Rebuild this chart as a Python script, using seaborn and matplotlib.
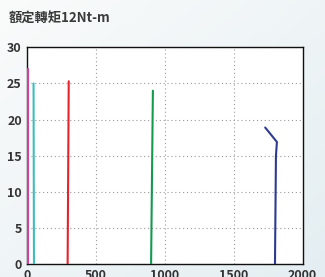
import numpy as np
import pandas as pd
import matplotlib
matplotlib.use("Agg")
from matplotlib import pyplot as plt
import seaborn as sns

title = "額定轉矩12Nt-m"

# each curve: speed (x) vs torque (y)
magenta_x = [12, 12]
magenta_y = [0, 27]
cyan_x = [53, 50]
cyan_y = [0, 25]
red_x = [297, 305]
red_y = [0, 25.3]
green_x = [902, 915]
green_y = [0, 24]
navy_x = [1800, 1807, 1814, 1729]
navy_y = [0, 15, 16.9, 18.9]

series = [
    ("magenta", magenta_x, magenta_y, "#d0409e"),
    ("cyan", cyan_x, cyan_y, "#3fbdbd"),
    ("red", red_x, red_y, "#e8222c"),
    ("green", green_x, green_y, "#129a4f"),
    ("navy", navy_x, navy_y, "#2e3a92"),
]

x_ticks = [0, 500, 1000, 1500, 2000]
y_ticks = [0, 5, 10, 15, 20, 25, 30]

sns.set_style("white")
plt.rcParams["font.family"] = ["Noto Sans CJK TC", "DejaVu Sans"]

fig = plt.figure(figsize=(3.25, 2.77), dpi=100)

# light diagonal gradient background
bg = fig.add_axes([0, 0, 1, 1], zorder=-10)
gx, gy = np.meshgrid(np.linspace(0, 1, 200), np.linspace(0, 1, 200))
grad = (gx + gy) / 2
bg.imshow(grad, cmap=matplotlib.colors.LinearSegmentedColormap.from_list(
    "bg", ["#fafbfb", "#e4eef2"]), aspect="auto", extent=[0, 1, 0, 1], origin="upper")
bg.axis("off")

ax = fig.add_axes([0.082, 0.047, 0.849, 0.782])
ax.set_facecolor("white")

for name, xs, ys, color in series:
    df = pd.DataFrame({"x": xs, "y": ys})
    sns.lineplot(data=df, x="x", y="y", sort=False, estimator=None, color=color,
                 linewidth=1.5, ax=ax, zorder=3)

ax.set_xlim(0, 2000)
ax.set_ylim(0, 30)
ax.set_xticks(x_ticks)
ax.set_yticks(y_ticks)
ax.set_xlabel("")
ax.set_ylabel("")
ax.grid(True, linestyle=(0, (1, 2.5)), color="#999999", linewidth=0.8)
for s in ax.spines.values():
    s.set_color("#111111")
    s.set_linewidth(1.0)
    s.set_zorder(2)
ax.tick_params(axis="both", length=2, pad=1.5, labelsize=9, colors="#333333")
for lbl in ax.get_xticklabels() + ax.get_yticklabels():
    lbl.set_fontweight("bold")

fig.text(0.028, 0.935, title, fontsize=9.5, fontweight="bold", color="#3a3a3a",
         va="center", ha="left")

fig.savefig("out.png", dpi=100)
